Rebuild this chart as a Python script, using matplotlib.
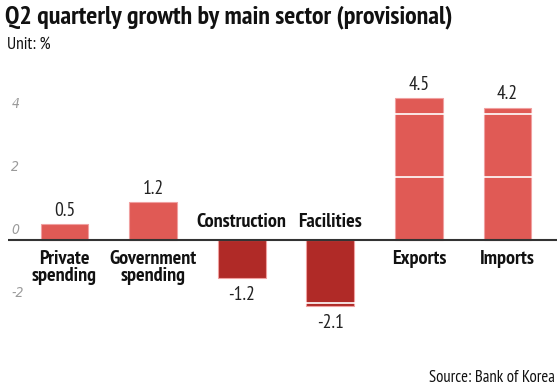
import numpy as np
import matplotlib.pyplot as plt

# data
sectors = ['Private\nspending', 'Government\nspending', 'Construction', 'Facilities', 'Exports', 'Imports']
growth = [0.5, 1.2, -1.2, -2.1, 4.5, 4.2]
yticks = [-2, 0, 2, 4]

plt.rcParams['font.family'] = ['PT Sans Narrow', 'DejaVu Sans']

fig = plt.figure(figsize=(5.6, 3.86), dpi=100)
ax = fig.add_axes([0.014, 0.1497, 0.98, 0.620])

x = np.arange(len(sectors))
cols = ['#E05A55' if v >= 0 else '#B02A27' for v in growth]
ax.bar(x, growth, width=0.54, color=cols, edgecolor='#F0A0A0', linewidth=0.8, zorder=2)

# white gridlines drawn over the bars
for t in yticks:
    if t != 0:
        ax.axhline(t, color='white', linewidth=1.2, zorder=3)
ax.axhline(0, color='#333333', linewidth=1.5, zorder=4)

ax.set_xlim(-0.64, 5.554)
ax.set_ylim(-2.8, 4.8)
ax.axis('off')

for t in yticks:
    ax.text(-0.6, t + 0.32, str(t), color='#9a9a9a', fontsize=10, style='italic',
            ha='left', va='center', family='DejaVu Sans', fontstretch='condensed')

for xi, v, name in zip(x, growth, sectors):
    if v >= 0:
        ax.text(xi, v + 0.14, f'{v}', ha='center', va='bottom', fontsize=14, color='#222222')
        ax.text(xi, -0.33, name, ha='center', va='top', fontsize=14.5, fontweight='bold',
                color='#111111', linespacing=0.9)
    else:
        ax.text(xi, v - 0.25, f'{v}', ha='center', va='top', fontsize=14, color='#222222')
        ax.text(xi, 0.3, name, ha='center', va='bottom', fontsize=14.5, fontweight='bold',
                color='#111111')

fig.text(0.009, 0.955, 'Q2 quarterly growth by main sector (provisional)', fontsize=18.7,
         fontweight='bold', ha='left', va='center', color='#111111')
fig.text(0.012, 0.885, 'Unit: %', fontsize=12.5, ha='left', va='center', color='#111111')
fig.text(0.99, 0.022, 'Source: Bank of Korea', fontsize=12, ha='right', va='center', color='#111111')

fig.savefig('out.png', dpi=100)
